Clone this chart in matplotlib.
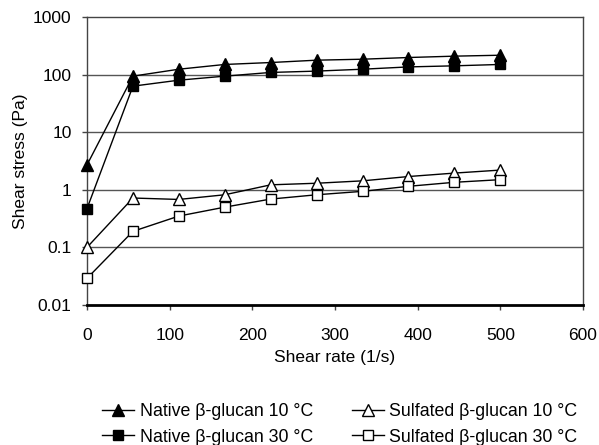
import matplotlib
matplotlib.use("Agg")
from matplotlib import pyplot as plt
from matplotlib.ticker import FixedLocator, FuncFormatter, NullLocator

plt.rcParams['font.family'] = ['Liberation Sans', 'DejaVu Sans']

# shear rate (1/s)
shear_rate = [0, 55.6, 111.1, 166.7, 222.2, 277.8, 333.3, 388.9, 444.4, 500]

# shear stress (Pa)
native_10 = [2.7, 94, 124, 150, 162, 178, 185, 198, 209, 217]
native_30 = [0.47, 63, 80, 94, 109, 115, 124, 136, 142, 150]
sulfated_10 = [0.1, 0.72, 0.68, 0.82, 1.22, 1.3, 1.43, 1.7, 1.95, 2.2]
sulfated_30 = [0.029, 0.19, 0.35, 0.5, 0.69, 0.82, 0.94, 1.15, 1.35, 1.5]

labels = ['Native \u03b2-glucan 10 \u00b0C',
          'Native \u03b2-glucan 30 \u00b0C',
          'Sulfated \u03b2-glucan 10 \u00b0C',
          'Sulfated \u03b2-glucan 30 \u00b0C']

y_ticks = [0.01, 0.1, 1, 10, 100, 1000]
x_ticks = [0, 100, 200, 300, 400, 500, 600]

fs = 12.5

fig = plt.figure(figsize=(5.99, 4.45), dpi=100)
ax = fig.add_axes([0.1452, 0.3146, 0.8281, 0.6472])

ax.set_yscale('log')
ax.set_xlim(0, 600)
ax.set_ylim(0.01, 1000)

for y in y_ticks[1:-1]:
    ax.axhline(y, color='#555555', lw=1, zorder=1)

h1, = ax.plot(shear_rate, native_10, '-^', color='black', mfc='black', ms=8, lw=1, zorder=3)
h2, = ax.plot(shear_rate, native_30, '-s', color='black', mfc='black', ms=7, lw=1, zorder=3)
h3, = ax.plot(shear_rate, sulfated_10, '-^', color='black', mfc='white', ms=8, lw=1, mew=1, zorder=3)
h4, = ax.plot(shear_rate, sulfated_30, '-s', color='black', mfc='white', ms=7, lw=1, mew=1, zorder=3)

for h in (h1, h2, h3, h4):
    h.set_clip_on(False)

ax.yaxis.set_major_locator(FixedLocator(y_ticks))
ax.yaxis.set_minor_locator(NullLocator())
ax.yaxis.set_major_formatter(FuncFormatter(lambda v, p: '%g' % v))
ax.xaxis.set_major_locator(FixedLocator(x_ticks))

ax.tick_params(axis='both', labelsize=fs, direction='out', length=3.6, width=1, color='#444444')
ax.tick_params(axis='y', pad=7.5)
ax.tick_params(axis='x', pad=13)

for side in ['top', 'right', 'left']:
    ax.spines[side].set_color('#444444')
    ax.spines[side].set_linewidth(1)
ax.spines['bottom'].set_color('black')
ax.spines['bottom'].set_linewidth(2)

ax.set_xlabel('Shear rate (1/s)', fontsize=fs, labelpad=5)
ax.set_ylabel('Shear stress (Pa)', fontsize=fs, labelpad=3.5)

fig.legend([h1, h2, h3, h4], labels, loc='upper left', bbox_to_anchor=(0.171, 0.095),
           ncol=2, frameon=False, fontsize=12.8, handlelength=1.8, handletextpad=0.3,
           columnspacing=2.2, labelspacing=0.5, borderpad=0, borderaxespad=0)

fig.savefig('out.png', dpi=100)
